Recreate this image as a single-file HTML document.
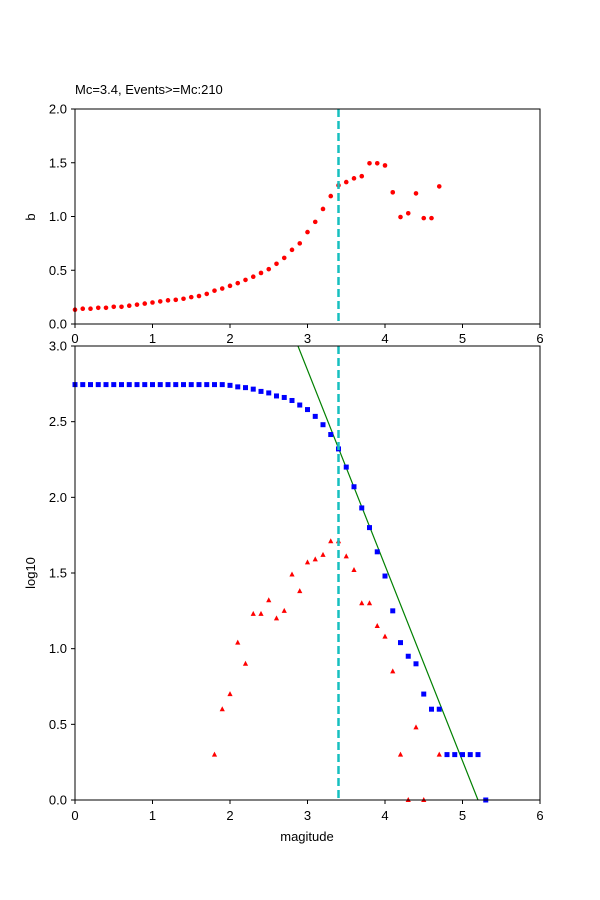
<!DOCTYPE html>
<html><head><meta charset="utf-8"><style>body{margin:0;background:#fff}svg{display:block;font-family:"Liberation Sans","DejaVu Sans",sans-serif}</style></head>
<body>
<svg id="s" width="600" height="900" xmlns="http://www.w3.org/2000/svg">
<rect width="600" height="900" fill="#fff"/>
<text x="75" y="94" font-size="13">Mc=3.4, Events&gt;=Mc:210</text>
<g id="g"></g>
</svg>
<script>
const g=document.getElementById('g');let h='';
const X=v=>75+v*77.5;
const T=v=>324-v*107.5;
const B=v=>800-v*151.33;
// top b
const b=[.133,.142,.142,.151,.151,.16,.16,.17,.18,.19,.2,.21,.22,.225,.235,.25,.26,.28,.31,.33,.355,.38,.41,.44,.475,.51,.56,.615,.69,.75,.855,.95,1.07,1.19,1.29,1.32,1.355,1.375,1.495,1.495,1.475,1.225,.995,1.03,1.215,.985,.985,1.28];
b.forEach((v,i)=>{h+=`<circle cx="${X(i/10)}" cy="${T(v)}" r="2.3" fill="red"/>`});
// bottom green line
h+=`<svg x="75" y="346" width="465" height="454" overflow="hidden"><line x1="${X(2.877)-75}" y1="0" x2="${X(5.2)-75}" y2="454" stroke="green" stroke-width="1.2"/>`;
h+=`</svg>`;
const bl=[];for(let i=0;i<=18;i++)bl.push([i/10,2.745]);
[[1.9,2.745],[2.0,2.74],[2.1,2.73],[2.2,2.725],[2.3,2.715],[2.4,2.70],[2.5,2.69],[2.6,2.67],[2.7,2.66],[2.8,2.64],[2.9,2.61],[3.0,2.58],[3.1,2.535],[3.2,2.48],[3.3,2.415],[3.4,2.32],[3.5,2.2],[3.6,2.07],[3.7,1.93],[3.8,1.80],[3.9,1.64],[4.0,1.48],[4.1,1.25],[4.2,1.04],[4.3,.95],[4.4,.9],[4.5,.7],[4.6,.6],[4.7,.6],[4.8,.3],[4.9,.3],[5.0,.3],[5.1,.3],[5.2,.3],[5.3,0]].forEach(p=>bl.push(p));
bl.forEach(p=>{h+=`<rect x="${X(p[0])-2.5}" y="${B(p[1])-2.5}" width="5" height="5" fill="blue"/>`});
const rt=[[1.8,.3],[1.9,.6],[2.0,.7],[2.1,1.04],[2.2,.9],[2.3,1.23],[2.4,1.23],[2.5,1.32],[2.6,1.2],[2.7,1.25],[2.8,1.49],[2.9,1.38],[3.0,1.57],[3.1,1.59],[3.2,1.62],[3.3,1.71],[3.4,1.71],[3.5,1.61],[3.6,1.52],[3.7,1.3],[3.8,1.3],[3.9,1.15],[4.0,1.08],[4.1,.85],[4.2,.3],[4.3,0],[4.4,.48],[4.5,0],[4.7,.3]];
rt.forEach(p=>{const x=X(p[0]),y=B(p[1]);h+=`<polygon points="${x},${y-3} ${x-2.6},${y+2} ${x+2.6},${y+2}" fill="red"/>`});
// dashed lines
h+=`<line x1="${X(3.4)}" y1="109" x2="${X(3.4)}" y2="324" stroke="#17bfbf" stroke-width="2.5" stroke-dasharray="8,4"/>`;
h+=`<line x1="${X(3.4)}" y1="346" x2="${X(3.4)}" y2="800" stroke="#17bfbf" stroke-width="2.5" stroke-dasharray="8,4"/>`;
// axes boxes
h+=`<rect x="75" y="109" width="465" height="215" fill="none" stroke="#000" stroke-width="1"/>`;
h+=`<rect x="75" y="346" width="465" height="454" fill="none" stroke="#000" stroke-width="1"/>`;
for(let i=0;i<=6;i++){const x=X(i);
h+=`<line x1="${x}" y1="324" x2="${x}" y2="328" stroke="#000"/><text x="${x}" y="343" font-size="13" text-anchor="middle">${i}</text>`;
h+=`<line x1="${x}" y1="800" x2="${x}" y2="804" stroke="#000"/><text x="${x}" y="820" font-size="13" text-anchor="middle">${i}</text>`;}
for(let i=0;i<=4;i++){const v=i*0.5,y=T(v);h+=`<line x1="71" y1="${y}" x2="75" y2="${y}" stroke="#000"/><text x="67" y="${y+4.5}" font-size="13" text-anchor="end">${v.toFixed(1)}</text>`;}
for(let i=0;i<=6;i++){const v=i*0.5,y=B(v);h+=`<line x1="71" y1="${y}" x2="75" y2="${y}" stroke="#000"/><text x="67" y="${y+4.5}" font-size="13" text-anchor="end">${v.toFixed(1)}</text>`;}
h+=`<text x="35" y="217" font-size="13" text-anchor="middle" transform="rotate(-90 35 217)">b</text>`;
h+=`<text x="35" y="573" font-size="13" text-anchor="middle" transform="rotate(-90 35 573)">log10</text>`;
h+=`<text x="307" y="841" font-size="13" text-anchor="middle">magitude</text>`;
g.innerHTML=h;
</script>
</body></html>
